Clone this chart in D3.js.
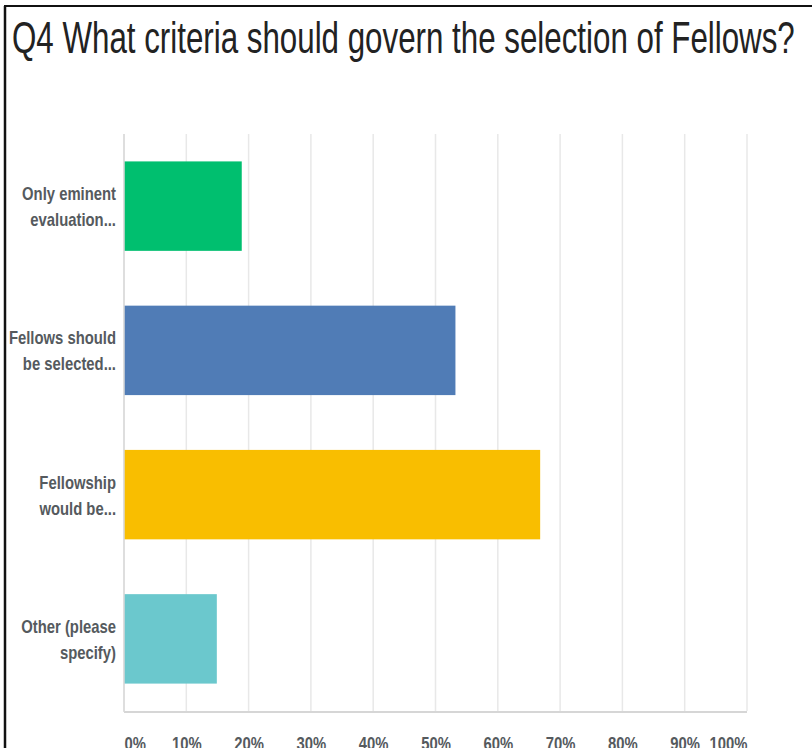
<!DOCTYPE html>
<html>
<head>
<meta charset="utf-8">
<script src="https://cdn.jsdelivr.net/npm/d3@7"></script>
<style>
  html, body { margin: 0; padding: 0; background: #fff; }
  svg { display: block; }
</style>
</head>
<body>
<svg id="chart" width="812" height="748"></svg>
<script>
const title = "Q4 What criteria should govern the selection of Fellows?";
const categories = [
  ["Only eminent", "evaluation..."],
  ["Fellows should", "be selected..."],
  ["Fellowship", "would be..."],
  ["Other (please", "specify)"]
];
const values = [18.9, 53.2, 66.8, 14.9];
const colors = ["#00bf6f", "#507cb6", "#f9be00", "#6bc8cd"];
const tickValues = [0, 10, 20, 30, 40, 50, 60, 70, 80, 90, 100];

const W = 812, H = 748;
const svg = d3.select("#chart");
svg.append("rect").attr("width", W).attr("height", H).attr("fill", "#fff");

// frame lines (left and top)
svg.append("line").attr("x1", 5).attr("x2", 5).attr("y1", 6).attr("y2", H)
  .attr("stroke", "#111").attr("stroke-width", 2.5);
svg.append("line").attr("x1", 4).attr("x2", W).attr("y1", 6).attr("y2", 6)
  .attr("stroke", "#111").attr("stroke-width", 2);

const font = "'Liberation Sans', Arial, sans-serif";

// title (condensed look via horizontal scale)
const tg = svg.append("g");
const t = tg.append("text")
  .attr("x", 0).attr("y", 0)
  .attr("font-family", font)
  .attr("font-size", 44)
  .attr("fill", "#222")
  .text(title);
const tw = t.node().getComputedTextLength();
tg.attr("transform", `translate(12,53) scale(${783 / tw},1)`);

const x = d3.scaleLinear().domain([0, 100]).range([124, 747]);
const y = d3.scaleBand().domain(d3.range(categories.length)).range([134, 711])
  .paddingInner(0.38).paddingOuter(0.19);

// gridlines
svg.append("g").selectAll("line").data(tickValues).join("line")
  .attr("x1", d => x(d)).attr("x2", d => x(d))
  .attr("y1", 134).attr("y2", 711)
  .attr("stroke", "#e8e8e8").attr("stroke-width", 1.5);

// bars
svg.append("g").selectAll("rect").data(values).join("rect")
  .attr("x", x(0))
  .attr("y", (d, i) => y(i))
  .attr("width", d => x(d) - x(0))
  .attr("height", y.bandwidth())
  .attr("fill", (d, i) => colors[i]);

// bottom axis line
svg.append("line").attr("x1", x(0)).attr("x2", x(100)).attr("y1", 712).attr("y2", 712)
  .attr("stroke", "#d6d6d6").attr("stroke-width", 2);
svg.append("line").attr("x1", x(0)).attr("x2", x(0)).attr("y1", 134).attr("y2", 712)
  .attr("stroke", "#d9d9d9").attr("stroke-width", 1.5);

// measure condensed factor for labels: "Only eminent" should be ~94px wide
const probe = svg.append("text").attr("font-family", font).attr("font-weight", "bold")
  .attr("font-size", 18).text(categories[0][0]);
const sx = 94 / probe.node().getComputedTextLength();
probe.remove();

// category labels
const cl = svg.append("g");
categories.forEach((lines, i) => {
  const cy = y(i) + y.bandwidth() / 2;
  const g = cl.append("g").attr("transform", `translate(116,${cy}) scale(${sx},1)`);
  const txt = g.append("text")
    .attr("text-anchor", "end")
    .attr("font-family", font)
    .attr("font-weight", "bold")
    .attr("font-size", 18)
    .attr("fill", "#555a5e");
  lines.forEach((ln, j) => {
    txt.append("tspan").attr("x", 0)
      .attr("y", -6 + j * 26)
      .text(ln);
  });
});

// x axis tick labels
const axis = d3.axisBottom(x).tickValues(tickValues).tickFormat(d => d + "%").tickSize(0).tickPadding(0);
const ag = svg.append("g").attr("transform", "translate(0,736)").call(axis);
ag.select(".domain").remove();
ag.selectAll("text")
  .attr("font-family", font)
  .attr("font-weight", "bold")
  .attr("font-size", 18)
  .attr("fill", "#555a5e")
  .attr("dy", "0.8em")
  .attr("transform", `scale(${sx},1)`)
  .attr("text-anchor", d => d === 0 ? "start" : d === 100 ? "end" : "middle");
</script>
</body>
</html>
